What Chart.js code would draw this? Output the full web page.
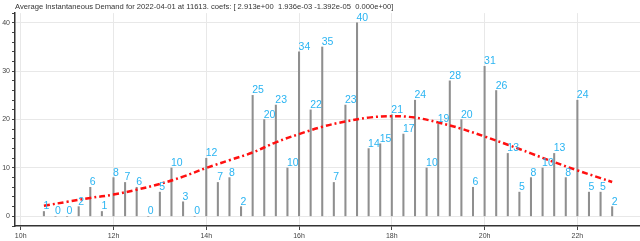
<!DOCTYPE html>
<html>
<head>
<meta charset="utf-8">
<script src="https://cdn.jsdelivr.net/npm/chart.js@4"></script>
<style>
  body { margin: 0; background: #fff; }
  #wrap { width: 640px; height: 241px; }
</style>
</head>
<body>
<div id="wrap"><canvas id="demandChart"></canvas></div>
<script>
// ===== Data =====
const slotTimes = [
  "10:30", "10:45", "11:00", "11:15", "11:30", "11:45", "12:00", "12:15", "12:30", "12:45",
  "13:00", "13:15", "13:30", "13:45", "14:00", "14:15", "14:30", "14:45", "15:00", "15:15",
  "15:30", "15:45", "16:00", "16:15", "16:30", "16:45", "17:00", "17:15", "17:30", "17:45",
  "18:00", "18:15", "18:30", "18:45", "19:00", "19:15", "19:30", "19:45", "20:00", "20:15",
  "20:30", "20:45", "21:00", "21:15", "21:30", "21:45", "22:00", "22:15", "22:30", "22:45",
];
const demand = [
  1, 0, 0, 2, 6, 1, 8, 7, 6, 0,
  5, 10, 3, 0, 12, 7, 8, 2, 25, 20,
  23, 10, 34, 22, 35, 7, 23, 40, 14, 15,
  21, 17, 24, 10, 19, 28, 20, 6, 31, 26,
  13, 5, 8, 10, 13, 8, 24, 5, 5, 2,
];

// fitted curve
const fitTimes = [
  "10:30", "11:00", "11:30", "12:00", "12:30", "13:00", "13:30", "14:00", "14:30", "15:00",
  "15:30", "16:00", "16:30", "17:00", "17:30", "18:00", "18:30", "19:00", "19:30", "20:00",
  "20:30", "21:00", "21:30", "22:00", "22:30", "22:45",
];
const fitValues = [
  2.2, 3.0, 3.8, 4.5, 5.5, 6.7, 8.2, 10.0, 11.6, 13.2,
  15.3, 17.0, 18.5, 19.6, 20.4, 20.7, 20.4, 19.4, 18.1, 16.5,
  14.8, 13.0, 11.2, 9.5, 7.9, 7.1,
];

const titleText =
  "Average Instantaneous Demand for 2022-04-01 at 11613. coefs: [ 2.913e+00  1.936e-03 -1.392e-05  0.000e+00]";

function toHours(t) {
  const [h, m] = t.split(":").map(Number);
  return h + m / 60;
}

const FONT = "'Liberation Sans', Arial, sans-serif";

// ===== Value labels over the bars =====
const barLabels = {
  id: "barLabels",
  afterDatasetsDraw(chart) {
    const ctx = chart.ctx;
    const meta = chart.getDatasetMeta(0);
    ctx.save();
    ctx.fillStyle = "#2ab4f2";
    ctx.font = "10.5px " + FONT;
    ctx.textAlign = "left";
    ctx.textBaseline = "alphabetic";
    meta.data.forEach((bar, i) => {
      ctx.fillText(String(demand[i]), bar.x - 0.5, bar.y - 2);
    });
    ctx.restore();
  },
};

new Chart(document.getElementById("demandChart"), {
  type: "bar",
  data: {
    datasets: [
      {
        type: "bar",
        data: slotTimes.map((t, i) => ({ x: toHours(t), y: demand[i] })),
        backgroundColor: "#8f8f8f",
        barThickness: 1.4,
        order: 1,
      },
      {
        type: "line",
        data: fitTimes.map((t, i) => ({ x: toHours(t), y: fitValues[i] })),
        borderColor: "#ff1010",
        borderWidth: 2.5,
        borderDash: [6, 3, 2, 3],
        pointRadius: 0,
        tension: 0.4,
        fill: false,
        order: 0,
      },
    ],
  },
  options: {
    responsive: true,
    maintainAspectRatio: false,
    animation: false,
    layout: { padding: 0 },
    plugins: {
      legend: { display: false },
      tooltip: { enabled: false },
      title: {
        display: true,
        text: titleText,
        align: "start",
        fullSize: false,
        color: "#333",
        font: { family: FONT, size: 7.6, weight: "normal" },
        padding: { top: 2, bottom: 2 },
      },
    },
    scales: {
      x: {
        type: "linear",
        offset: false,
        min: 9.877,
        max: 23.35,
        afterFit: (s) => { s.height = 15; },
        ticks: {
          stepSize: 2,
          includeBounds: false,
          callback: (v) => v + "h",
          color: "#444",
          font: { family: FONT, size: 7 },
          padding: 2,
          maxRotation: 0,
        },
        grid: { offset: false, color: "#e8e8e8", tickColor: "#444", tickLength: 4 },
        border: { color: "#333", width: 1.5 },
      },
      y: {
        min: -2,
        max: 42,
        afterFit: (s) => { s.width = 15; },
        ticks: {
          stepSize: 2,
          includeBounds: false,
          autoSkip: false,
          callback: (v) => (v % 10 === 0 ? v : ""),
          color: "#444",
          font: { family: FONT, size: 7 },
          padding: 2,
        },
        grid: {
          color: (c) => (c.tick && c.tick.value % 10 === 0 ? "#e8e8e8" : "rgba(0,0,0,0)"),
          tickColor: "#444",
          tickLength: 3,
        },
        border: { color: "#333", width: 1.5 },
      },
    },
  },
  plugins: [barLabels],
});
</script>
</body>
</html>
